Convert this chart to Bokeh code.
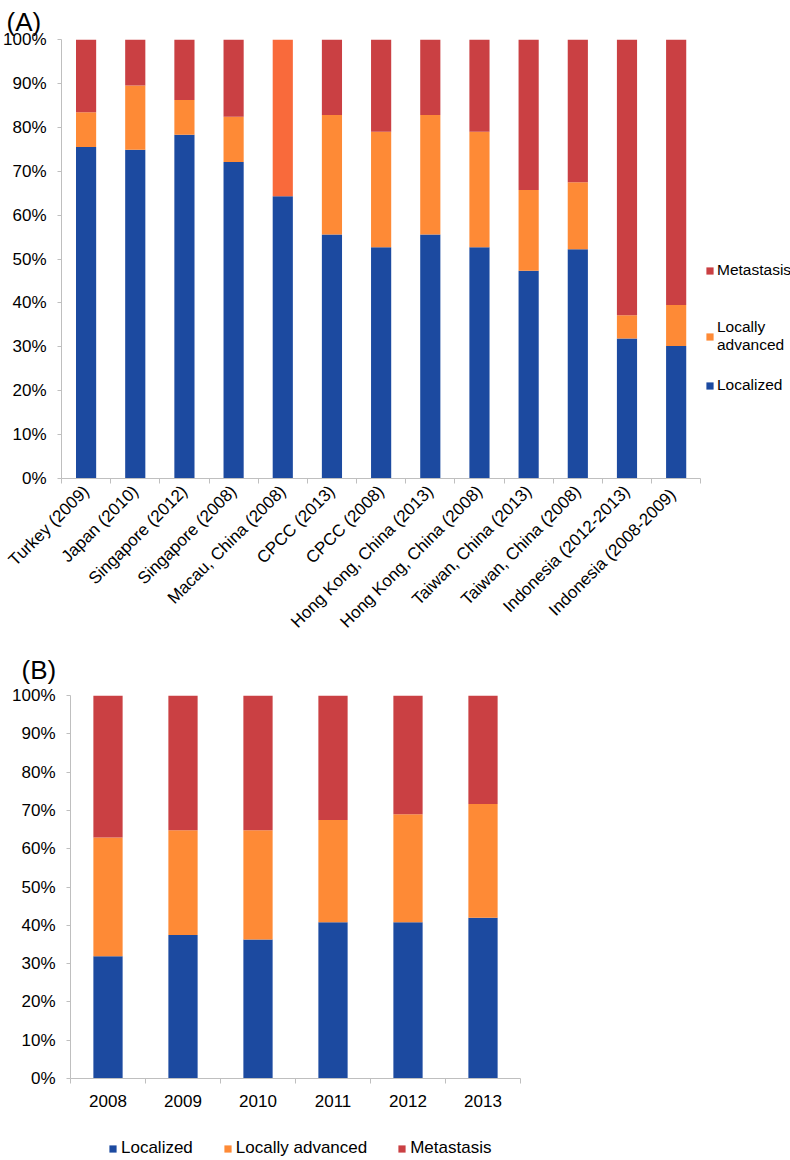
from bokeh.plotting import figure
from bokeh.models import ColumnDataSource, Range1d, FixedTicker, Legend, LegendItem
from bokeh.embed import file_html
from bokeh.resources import INLINE

# ---------------- data ----------------
sites = ["Turkey (2009)", "Japan (2010)", "Singapore (2012)", "Singapore (2008)",
         "Macau, China (2008)", "CPCC (2013)", "CPCC (2008)", "Hong Kong, China (2013)",
         "Hong Kong, China (2008)", "Taiwan, China (2013)", "Taiwan, China (2008)",
         "Indonesia (2012-2013)", "Indonesia  (2008-2009)"]
localized_a = [75.5, 74.9, 78.3, 72.1, 64.3, 55.6, 52.7, 55.6, 52.7, 47.3, 52.2, 31.9, 30.2]
advanced_a = [7.9, 14.6, 7.9, 10.3, 35.7, 27.2, 26.3, 27.2, 26.3, 18.4, 15.3, 5.3, 9.3]
metastasis_a = [16.6, 10.5, 13.8, 17.6, 0.0, 17.2, 21.0, 17.2, 21.0, 34.3, 32.5, 62.8, 60.5]

years = ["2008", "2009", "2010", "2011", "2012", "2013"]
localized_b = [31.9, 37.5, 36.3, 40.8, 40.8, 42.0]
advanced_b = [31.0, 27.3, 28.5, 26.7, 28.2, 29.7]
metastasis_b = [37.1, 35.2, 35.2, 32.5, 31.0, 28.3]

series_names = ["Localized", "Locally advanced", "Metastasis"]
y_ticks = list(range(0, 101, 10))

# ---------------- style ----------------
FONT = "Liberation Sans"
BLUE = "#1C4AA0"
ORANGE = "#FE8A36"
RED = "#CA4043"
MACAU = "#F96A3B"
AXIS = "#BFBFBF"
TXT = "#000000"


def build_source(cats, loc, adv, met):
    n = len(cats)
    xs = [i + 0.5 for i in range(n)]
    t1 = list(loc)
    t2 = [a + b for a, b in zip(loc, adv)]
    t3 = [a + b + c for a, b, c in zip(loc, adv, met)]
    adv_col = [MACAU if m == 0 else ORANGE for m in met]
    return ColumnDataSource(dict(x=xs, zero=[0] * n, t1=t1, t2=t2, t3=t3, adv_col=adv_col))


def style_axes(p, cats, orientation, x_standoff, y_standoff):
    n = len(cats)
    xa = p.xaxis[0]
    xa.ticker = FixedTicker(ticks=[i + 0.5 for i in range(n)],
                            minor_ticks=list(range(n + 1)))
    xa.major_label_overrides = {i + 0.5: c for i, c in enumerate(cats)}
    xa.major_tick_line_color = None
    xa.major_tick_out = 0
    xa.major_tick_in = 0
    xa.minor_tick_line_color = AXIS
    xa.minor_tick_out = 5
    xa.minor_tick_in = 0
    xa.axis_line_color = AXIS
    xa.major_label_text_font = FONT
    xa.major_label_text_font_size = "17px"
    xa.major_label_text_color = TXT
    xa.major_label_orientation = orientation
    xa.major_label_standoff = x_standoff
    xa.bounds = (0, n)

    ya = p.yaxis[0]
    ya.ticker = FixedTicker(ticks=y_ticks, minor_ticks=[])
    ya.major_label_overrides = {t: f"{t}%" for t in y_ticks}
    ya.major_tick_line_color = AXIS
    ya.major_tick_out = 4
    ya.major_tick_in = 0
    ya.minor_tick_line_color = None
    ya.axis_line_color = AXIS
    ya.major_label_text_font = FONT
    ya.major_label_text_font_size = "17px"
    ya.major_label_text_color = TXT
    ya.major_label_standoff = y_standoff

    p.xgrid.grid_line_color = None
    p.ygrid.grid_line_color = None
    p.outline_line_color = None
    p.background_fill_color = "white"
    p.border_fill_color = "white"

    p.title.text_font = FONT
    p.title.text_font_size = "26px"
    p.title.text_font_style = "normal"
    p.title.text_color = TXT
    p.title.align = "left"


def draw_bars(p, src, width, use_adv_col, visible=True):
    r_loc = p.vbar(x="x", width=width, bottom="zero", top="t1", source=src,
                   fill_color=BLUE, line_color=None, visible=visible)
    r_adv = p.vbar(x="x", width=width, bottom="t1", top="t2", source=src,
                   fill_color="adv_col" if use_adv_col else ORANGE, line_color=None,
                   visible=visible)
    r_met = p.vbar(x="x", width=width, bottom="t2", top="t3", source=src,
                   fill_color=RED, line_color=None, visible=visible)
    return r_loc, r_adv, r_met


def make_legend(items, location, font_size, orientation="vertical", spacing=0, standoff=4):
    return Legend(items=items, location=location, orientation=orientation,
                  glyph_width=9, glyph_height=9, label_standoff=standoff,
                  label_text_font=FONT, label_text_font_size=font_size,
                  label_text_color=TXT, label_height=17, spacing=spacing,
                  padding=0, margin=0, border_line_color=None,
                  background_fill_alpha=0, inactive_fill_alpha=0)


# ---------------- chart A ----------------
n_a = len(sites)
frame_w_a = 790 - 59
axis_w_a = 641
xmax_a = n_a * frame_w_a / axis_w_a

p1 = figure(width=790, height=641, x_range=Range1d(0, xmax_a), y_range=Range1d(0, 100),
            output_backend="svg", toolbar_location=None, title="(A)",
            min_border_left=59, min_border_right=0, min_border_top=39,
            min_border_bottom=163)
src_a = build_source(sites, localized_a, advanced_a, metastasis_a)
ra_loc, ra_adv, ra_met = draw_bars(p1, src_a, 0.41, True)
style_axes(p1, sites, 0.785398, 5, 11)
p1.title.offset = -55
p1.title.standoff = 6

lg_met = make_legend([LegendItem(label=series_names[2], renderers=[ra_met])],
                     (644, 199), "15.5px", standoff=3)
lg_adv = make_legend([LegendItem(label="Locally\nadvanced", renderers=[ra_adv], index=0)],
                     (644, 124), "15.5px", standoff=3)
lg_loc = make_legend([LegendItem(label=series_names[0], renderers=[ra_loc])],
                     (644, 84), "15.5px", standoff=3)
for lg in (lg_met, lg_adv, lg_loc):
    p1.add_layout(lg, "center")

# ---------------- chart B ----------------
p2 = figure(width=790, height=479, x_range=Range1d(0, len(years)), y_range=Range1d(0, 100),
            output_backend="svg", toolbar_location=None, title="(B)",
            min_border_left=70, min_border_right=270, min_border_top=53,
            min_border_bottom=42)
src_b = build_source(years, localized_b, advanced_b, metastasis_b)
rb_loc, rb_adv, rb_met = draw_bars(p2, src_b, 0.39, False)
style_axes(p2, years, "horizontal", 11, 11)
p2.title.offset = -49
p2.title.standoff = 22

# ---------------- legend strip for chart B ----------------
p3 = figure(width=790, height=40, x_range=Range1d(0, 1), y_range=Range1d(0, 1),
            output_backend="svg", toolbar_location=None,
            min_border_left=0, min_border_right=0, min_border_top=0, min_border_bottom=0,
            x_axis_location=None, y_axis_location=None)
p3.grid.visible = False
p3.outline_line_color = None
leg_renderers = draw_bars(p3, src_b, 0.39, False, visible=False)
lg_b = make_legend([LegendItem(label=name, renderers=[r], index=0)
                    for name, r in zip(series_names, leg_renderers)],
                   (108, 2), "17px", orientation="horizontal", spacing=30)
p3.add_layout(lg_b, "center")

open("out.html", "w").write(file_html([p1, p2, p3], INLINE))
